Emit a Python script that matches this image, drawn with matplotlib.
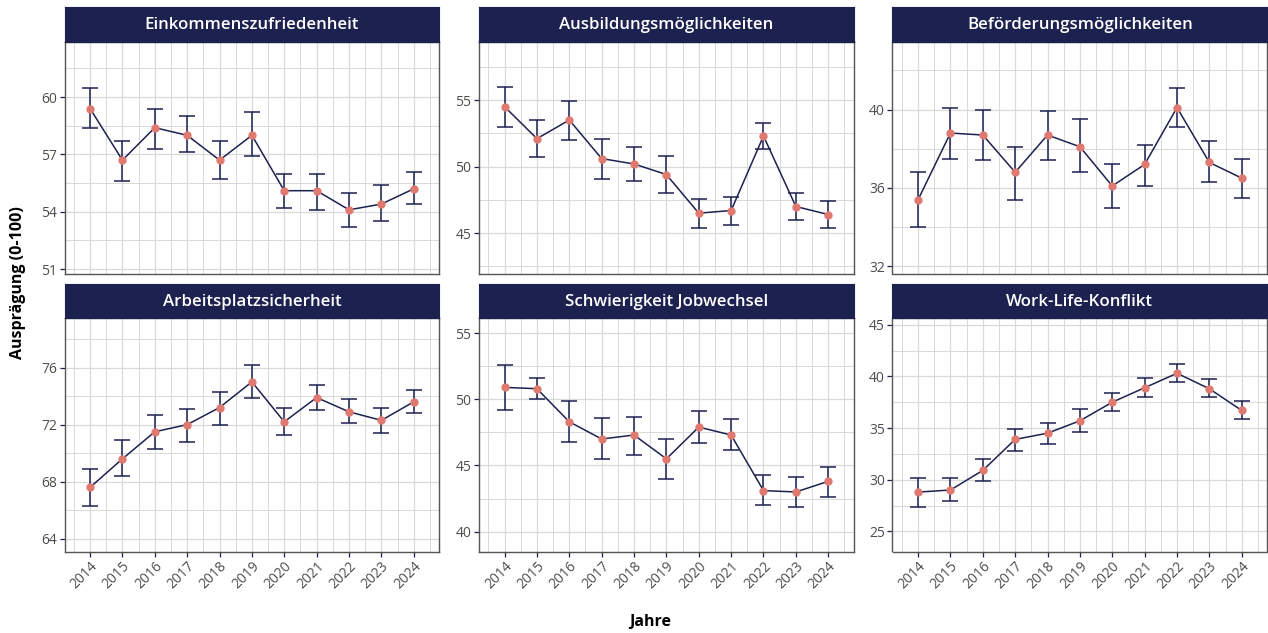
import matplotlib
matplotlib.use("Agg")
import matplotlib.pyplot as plt
from matplotlib.ticker import MultipleLocator

plt.rcParams['font.family'] = ['Open Sans', 'DejaVu Sans']

years = [2014, 2015, 2016, 2017, 2018, 2019, 2020, 2021, 2022, 2023, 2024]

titles = ["Einkommenszufriedenheit", "Ausbildungsmöglichkeiten", "Beförderungsmöglichkeiten",
          "Arbeitsplatzsicherheit", "Schwierigkeit Jobwechsel", "Work-Life-Konflikt"]

# mean values and confidence bounds per scale
einkommen = [59.4, 56.7, 58.4, 58.0, 56.7, 58.0, 55.1, 55.1, 54.1, 54.4, 55.2]
einkommen_lo = [58.4, 55.6, 57.3, 57.1, 55.7, 56.9, 54.2, 54.1, 53.2, 53.5, 54.4]
einkommen_hi = [60.5, 57.7, 59.4, 59.0, 57.7, 59.2, 56.0, 56.0, 55.0, 55.4, 56.1]

ausbildung = [54.5, 52.1, 53.5, 50.6, 50.2, 49.4, 46.5, 46.7, 52.3, 47.0, 46.4]
ausbildung_lo = [53.0, 50.7, 52.0, 49.1, 48.9, 48.0, 45.4, 45.6, 51.3, 46.0, 45.4]
ausbildung_hi = [56.0, 53.5, 54.9, 52.1, 51.5, 50.8, 47.6, 47.7, 53.3, 48.0, 47.4]

befoerderung = [35.4, 38.8, 38.7, 36.8, 38.7, 38.1, 36.1, 37.2, 40.1, 37.3, 36.5]
befoerderung_lo = [34.0, 37.5, 37.4, 35.4, 37.4, 36.8, 35.0, 36.1, 39.1, 36.3, 35.5]
befoerderung_hi = [36.8, 40.1, 40.0, 38.1, 39.9, 39.5, 37.2, 38.2, 41.1, 38.4, 37.5]

sicherheit = [67.6, 69.6, 71.5, 72.0, 73.2, 75.0, 72.2, 73.9, 72.9, 72.3, 73.6]
sicherheit_lo = [66.3, 68.4, 70.3, 70.8, 72.0, 73.9, 71.3, 73.0, 72.1, 71.4, 72.8]
sicherheit_hi = [68.9, 70.9, 72.7, 73.1, 74.3, 76.2, 73.2, 74.8, 73.8, 73.2, 74.4]

jobwechsel = [50.9, 50.8, 48.3, 47.0, 47.3, 45.5, 47.9, 47.3, 43.1, 43.0, 43.8]
jobwechsel_lo = [49.2, 50.0, 46.8, 45.5, 45.8, 44.0, 46.7, 46.2, 42.0, 41.9, 42.6]
jobwechsel_hi = [52.6, 51.6, 49.9, 48.6, 48.7, 47.0, 49.1, 48.5, 44.3, 44.1, 44.9]

worklife = [28.8, 29.0, 30.9, 33.9, 34.5, 35.7, 37.5, 38.9, 40.3, 38.8, 36.7]
worklife_lo = [27.4, 27.9, 29.9, 32.8, 33.5, 34.6, 36.6, 38.0, 39.5, 38.0, 35.9]
worklife_hi = [30.2, 30.2, 32.0, 34.9, 35.5, 36.8, 38.4, 39.8, 41.2, 39.7, 37.6]

series = [(einkommen, einkommen_lo, einkommen_hi),
          (ausbildung, ausbildung_lo, ausbildung_hi),
          (befoerderung, befoerderung_lo, befoerderung_hi),
          (sicherheit, sicherheit_lo, sicherheit_hi),
          (jobwechsel, jobwechsel_lo, jobwechsel_hi),
          (worklife, worklife_lo, worklife_hi)]

# free y scales per panel: (limits, major step)
y_limits = [(50.74, 62.91), (41.93, 59.4), (31.61, 43.47),
            (63.1, 79.46), (38.5, 56.12), (23.05, 45.62)]
y_steps = [3, 5, 4, 4, 5, 5]

navy = '#1c2150'
point_col = '#e07a70'
grid_col = '#d9d9d9'

W, H = 1268, 633
fig = plt.figure(figsize=(W / 100, H / 100), dpi=100)

col_left = [64.5, 479.0, 892.5]
panel_w = 374.8
rows = [(6.5, 41.5, 274.0), (284.3, 318.3, 551.5)]  # strip top, panel top, panel bottom

for i, (vals, lo, hi) in enumerate(series):
    r, c = divmod(i, 3)
    s_top, p_top, p_bot = rows[r]
    left = col_left[c]
    ax = fig.add_axes([left / W, 1 - p_bot / H, panel_w / W, (p_bot - p_top) / H])
    strip = fig.add_axes([left / W, 1 - p_top / H, panel_w / W, (p_top - s_top) / H])
    strip.set_facecolor(navy)
    strip.set_xticks([])
    strip.set_yticks([])
    for sp in strip.spines.values():
        sp.set_color(navy)
    strip.text(0.5, 0.47, titles[i], color='white', fontsize=12.2, fontweight='semibold',
               ha='center', va='center', transform=strip.transAxes)

    yerr = [[v - l for v, l in zip(vals, lo)], [h - v for v, h in zip(vals, hi)]]
    ax.errorbar(years, vals, yerr=yerr, fmt='none', ecolor=navy, elinewidth=1.1,
                capsize=5.8, capthick=1.1, zorder=3)
    ax.plot(years, vals, color=navy, lw=1.1, zorder=4)
    ax.plot(years, vals, 'o', color=point_col, markersize=5, zorder=5)

    ax.set_xlim(2013.21, 2024.79)
    ax.set_ylim(*y_limits[i])
    ax.xaxis.set_major_locator(MultipleLocator(1))
    ax.xaxis.set_minor_locator(MultipleLocator(0.5))
    ax.yaxis.set_major_locator(MultipleLocator(y_steps[i]))
    ax.yaxis.set_minor_locator(MultipleLocator(y_steps[i] / 2))
    ax.grid(which='major', color=grid_col, lw=0.9)
    ax.grid(which='minor', color=grid_col, lw=0.7)
    ax.set_axisbelow(True)
    for sp in ax.spines.values():
        sp.set_color('#555555')
        sp.set_linewidth(1.0)

    ax.tick_params(which='minor', length=0)
    ax.tick_params(which='major', length=3.5, width=0.9, color=navy,
                   labelcolor='#4d4d4d', labelsize=10, pad=2)
    if r == 0:
        ax.set_xticklabels([])
        ax.tick_params(axis='x', length=0)
    else:
        ax.set_xticks(years)
        ax.set_xticklabels([str(y) for y in years], rotation=45, ha='right',
                           rotation_mode='anchor')

fig.text(650 / W, 1 - 622 / H, "Jahre", ha='center', va='center',
         fontsize=11.5, fontweight='bold')
fig.text(18 / W, 1 - 283 / H, "Ausprägung (0-100)", ha='center', va='center',
         rotation=90, fontsize=11.5, fontweight='bold')

fig.savefig("out.png", dpi=100)
